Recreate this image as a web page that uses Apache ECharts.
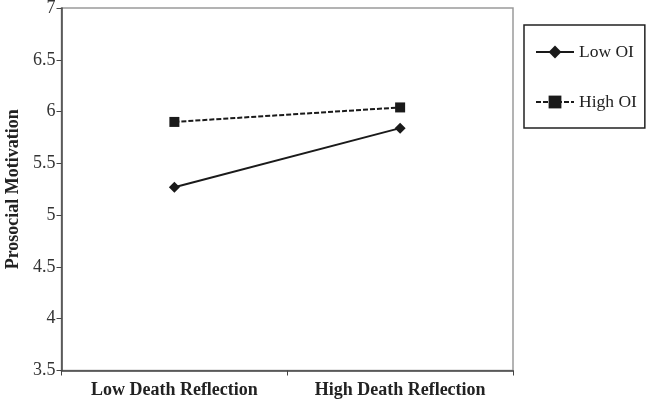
<!DOCTYPE html>
<html>
<head>
<meta charset="utf-8">
<script src="https://cdn.jsdelivr.net/npm/echarts@6/dist/echarts.min.js"></script>
<style>html,body{margin:0;padding:0;background:#fff;}#c{width:650px;height:402px;}</style>
</head>
<body>
<div id="c"></div>
<script>
const categories = ["Low Death Reflection", "High Death Reflection"];
const lowOI = [5.27, 5.84];
const highOI = [5.90, 6.04];
const yTicks = { min: 3.5, max: 7, interval: 0.5 };

const chart = echarts.init(document.getElementById('c'), null, { renderer: 'canvas' });
const serif = '"Liberation Serif", "DejaVu Serif", serif';
chart.setOption({
  animation: false,
  backgroundColor: '#fff',
  grid: { left: 61.5, right: 137, top: 8, bottom: 31.5, containLabel: false, outerBoundsMode: 'none',
    show: true, borderColor: '#9a9a9a', borderWidth: 1.5, backgroundColor: 'transparent' },
  legend: {
    orient: 'vertical', left: 524, top: 25,
    borderColor: '#222', borderWidth: 1.5,
    padding: [18, 8, 17, 11],
    itemGap: 32, itemWidth: 38, itemHeight: 16,
    textStyle: { fontFamily: serif, fontSize: 17.5, color: '#222' },
    data: ['Low OI', 'High OI']
  },
  xAxis: {
    type: 'category', data: categories, boundaryGap: true,
    axisLine: { lineStyle: { color: '#444', width: 1.5 } },
    axisTick: { show: true, length: 5, inside: false, lineStyle: { color: '#444' } },
    axisLabel: { fontFamily: serif, fontWeight: 'bold', fontSize: 18, color: '#222', margin: 11 },
    splitLine: { show: false }
  },
  yAxis: {
    type: 'value', min: yTicks.min, max: yTicks.max, interval: yTicks.interval,
    name: 'Prosocial Motivation', nameLocation: 'middle', nameGap: 36,
    nameTextStyle: { fontFamily: serif, fontWeight: 'bold', fontSize: 18, color: '#222' },
    axisLine: { show: true, lineStyle: { color: '#444', width: 1.5 } },
    axisTick: { show: true, length: 5, lineStyle: { color: '#444' } },
    axisLabel: { fontFamily: serif, fontSize: 18, color: '#333', margin: 6 },
    splitLine: { show: false }
  },
  series: [
    {
      name: 'Low OI', type: 'line', data: lowOI,
      symbol: 'diamond', symbolSize: 11,
      lineStyle: { color: '#1a1a1a', width: 2 },
      itemStyle: { color: '#1a1a1a' }
    },
    {
      name: 'High OI', type: 'line', data: highOI,
      symbol: 'rect', symbolSize: 10,
      lineStyle: { color: '#1a1a1a', width: 2, type: [5, 2] },
      itemStyle: { color: '#1a1a1a' }
    }
  ]
});
</script>
</body>
</html>
